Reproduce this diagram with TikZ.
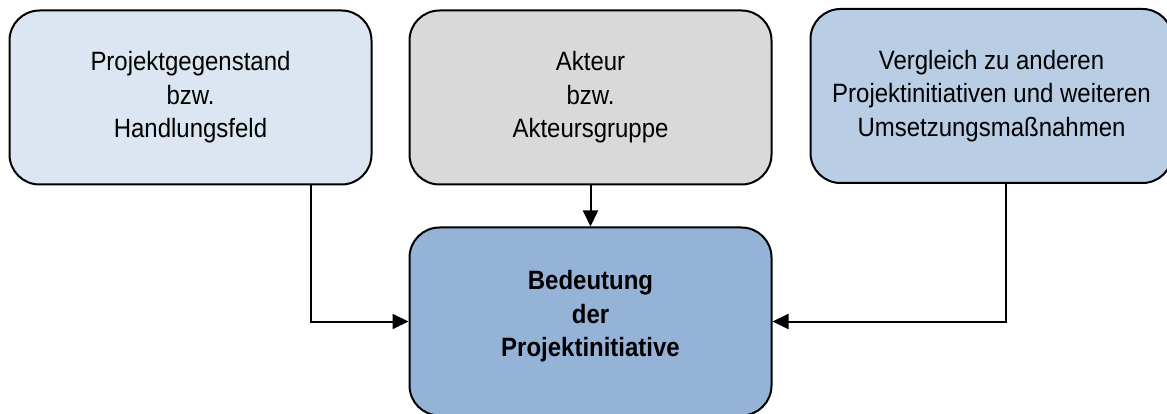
\documentclass[tikz,border=0pt]{standalone}
\usepackage{fontspec}
\setmainfont{Liberation Sans}[FakeStretch=0.905]
\usetikzlibrary{arrows.meta}

\definecolor{boxA}{HTML}{DCE6F2}
\definecolor{boxB}{HTML}{D9D9D9}
\definecolor{boxC}{HTML}{B9CDE5}
\definecolor{boxD}{HTML}{95B3D7}

\tikzset{
  txt/.style={font=\fontsize{26.5}{33.5}\selectfont},
  boldtxt/.style={font=\fontsize{26.5}{33.5}\selectfont\bfseries},
  card/.style={draw=black, line width=2pt, rounded corners=30pt,
    minimum width=362pt, minimum height=174pt, inner sep=0pt,
    align=center, txt},
  arr/.style={line width=2pt, -{Triangle[length=16pt, width=15pt]}},
}

\begin{document}
\begin{tikzpicture}[x=1pt, y=-1pt]
  \clip (0,0) rectangle (1167,414);

  % three source boxes
  \node[card, fill=boxA] (b1) at (190.5,97.5)
    {Projektgegenstand\\bzw.\\Handlungsfeld};
  \node[card, fill=boxB] (b2) at (590.5,97.5)
    {Akteur\\bzw.\\Akteursgruppe};
  \node[card, fill=boxC] (b3) at (991.5,96)
    {Vergleich zu anderen\\Projektinitiativen und weiteren\\Umsetzungsmaßnahmen};

  % target box
  \node[card, fill=boxD, minimum height=188pt] (b4) at (590.5,321.5) {};
  \node[align=center, inner sep=0pt, boldtxt]
    (b4t) at ([yshift=5pt]b4.center) {Bedeutung\\der\\Projektinitiative};

  % connectors
  \draw[arr] ([xshift=120.5pt]b1.south) |- (b4.west);
  \draw[arr] (b2.south) -- (b4.north);
  \draw[arr] ([xshift=14.5pt]b3.south) |- (b4.east);
\end{tikzpicture}
\end{document}
